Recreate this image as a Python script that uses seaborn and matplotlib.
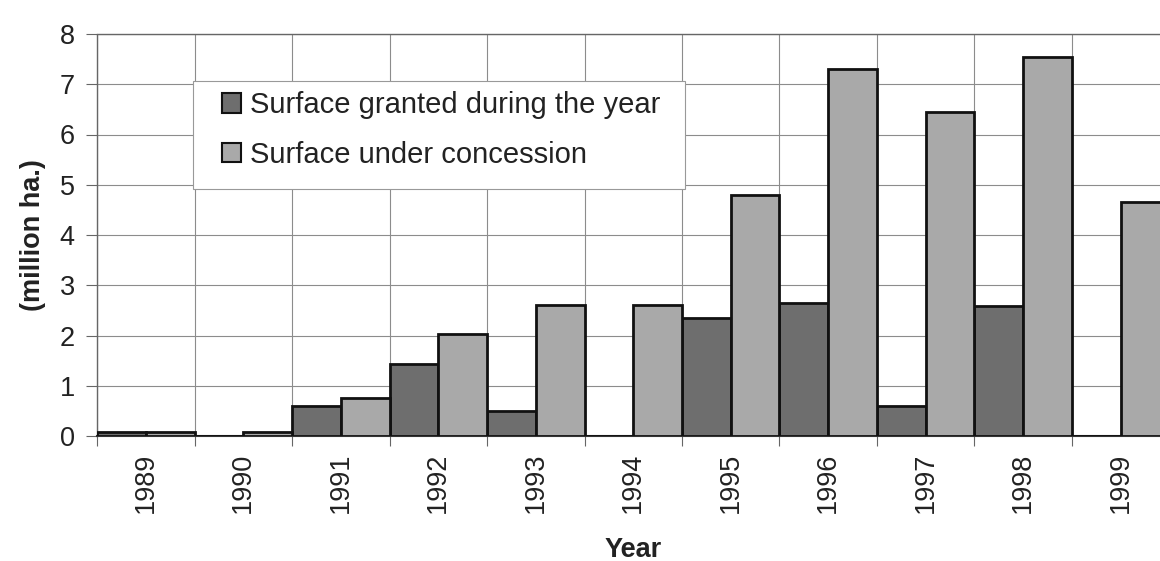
import matplotlib
matplotlib.use("Agg")
import matplotlib.pyplot as plt
import seaborn as sns
import pandas as pd
import numpy as np
from matplotlib.ticker import FixedLocator
from matplotlib.patches import Rectangle

years = ["1989", "1990", "1991", "1992", "1993", "1994", "1995", "1996", "1997", "1998", "1999"]
granted = [0.07, 0.0, 0.6, 1.44, 0.5, 0.0, 2.34, 2.65, 0.6, 2.58, 0.0]
concession = [0.08, 0.08, 0.76, 2.02, 2.6, 2.6, 4.8, 7.3, 6.45, 7.55, 4.65]
series_names = ["Surface granted during the year", "Surface under concession"]

df = pd.DataFrame({
    "Year": years * 2,
    "value": granted + concession,
    "series": [series_names[0]] * len(years) + [series_names[1]] * len(years),
})

sns.set_theme(style="white")
plt.rcParams['font.family'] = ['Liberation Sans', 'DejaVu Sans']

W, H = 1160, 561
fig = plt.figure(figsize=(W / 100, H / 100), dpi=100)
ax_l, ax_r, ax_t, ax_b = 97, 1169.5, 34, 436
ax = fig.add_axes([ax_l / W, (H - ax_b) / H, (ax_r - ax_l) / W, (ax_b - ax_t) / H])

def px2ax(x, y):
    return (x - ax_l) / (ax_r - ax_l), (ax_b - y) / (ax_b - ax_t)

palette = {series_names[0]: "#6e6e6e", series_names[1]: "#a9a9a9"}
sns.barplot(data=df, x="Year", y="value", hue="series", order=years,
            hue_order=series_names, palette=palette, width=1.0, gap=0,
            edgecolor="#111111", linewidth=2, saturation=1, ax=ax, zorder=3)

ax.set_xlim(-0.5, len(years) - 0.5)
ax.set_ylim(0, 8)
ax.set_yticks(range(0, 9))
ax.set_yticklabels([str(i) for i in range(0, 9)])

ax.xaxis.set_minor_locator(FixedLocator(np.arange(-0.5, len(years), 1.0)))
ax.grid(axis="y", which="major", color="#8c8c8c", linewidth=0.8, zorder=0)
ax.grid(axis="x", which="minor", color="#8c8c8c", linewidth=0.8, zorder=0)
ax.grid(axis="x", which="major", visible=False)
ax.set_axisbelow(True)

ax.tick_params(axis="x", which="major", length=0, pad=12, labelsize=19.5, labelrotation=90, colors="#222222")
ax.tick_params(axis="x", which="minor", length=7, width=0.8, color="#666666", bottom=True)
ax.tick_params(axis="y", which="major", length=8, width=0.8, color="#666666", left=True, pad=8, labelsize=19.5, labelcolor="#222222")

for s in ["top", "left"]:
    ax.spines[s].set_color("#666666")
    ax.spines[s].set_linewidth(1.0)
    ax.spines[s].set_linestyle((0, (1, 1)))
ax.spines["bottom"].set_color("#333333")
ax.spines["bottom"].set_linewidth(1.5)
ax.spines["bottom"].set_linestyle((0, (1, 1)))
ax.spines["right"].set_visible(False)

ax.set_xlabel("Year", fontsize=19.5, fontweight="bold", labelpad=17, color="#222222")
ax.set_ylabel("(million ha.)", fontsize=19.5, fontweight="bold", labelpad=10, color="#222222")

# legend frame
x0, y0 = px2ax(193, 189)
x1, y1 = px2ax(685, 81)
ax.add_patch(Rectangle((x0, y0), x1 - x0, y1 - y0, transform=ax.transAxes,
                       facecolor="white", edgecolor="#999999", linewidth=0.8, zorder=4))

lx, ly = px2ax(222, 91)
leg = ax.legend(loc="upper left", bbox_to_anchor=(lx, ly),
                borderaxespad=0, borderpad=0, frameon=False, fontsize=21,
                handlelength=0.66, handleheight=0.66, handletextpad=0.3,
                labelspacing=0.75, title=None)
for h in leg.legend_handles:
    h.set_edgecolor("#111111")
    h.set_linewidth(1.5)
for t in leg.get_texts():
    t.set_color("#222222")
leg.set_zorder(5)

fig.savefig("out.png", dpi=100)
